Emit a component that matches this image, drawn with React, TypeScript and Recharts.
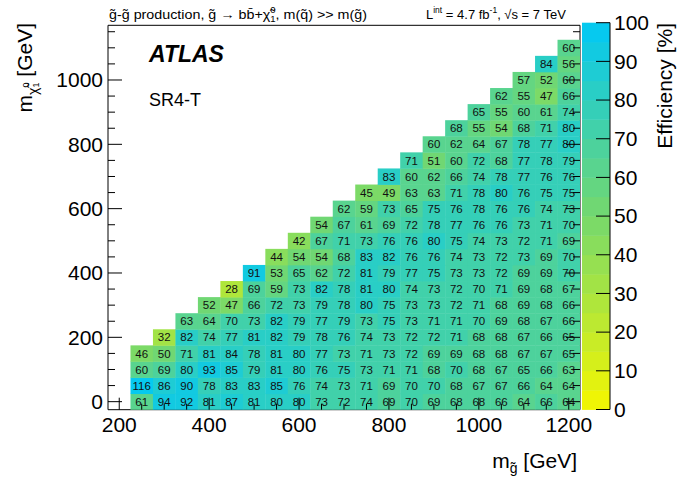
import React from "react";
import { ScatterChart, Scatter, XAxis, YAxis } from "recharts";

// gluino masses (columns) and neutralino masses (rows), GeV
const GLUINO = [250, 300, 350, 400, 450, 500, 550, 600, 650, 700, 750, 800, 850, 900, 950, 1000, 1050, 1100, 1150, 1200];
const NEUTRALINO = [0, 50, 100, 150, 200, 250, 300, 350, 400, 450, 500, 550, 600, 650, 700, 750, 800, 850, 900, 950, 1000, 1050, 1100];

// efficiency [%] per neutralino row, the last entry of each row sits at m_gluino = 1200
const EFF_0 = [61, 94, 92, 81, 87, 81, 80, 80, 73, 72, 74, 69, 70, 69, 68, 68, 66, 64, 66, 64];
const EFF_50 = [116, 86, 90, 78, 83, 83, 85, 76, 74, 73, 71, 69, 70, 70, 68, 67, 67, 66, 64, 64];
const EFF_100 = [60, 69, 80, 93, 85, 79, 81, 80, 76, 75, 73, 71, 71, 68, 70, 68, 67, 65, 66, 63];
const EFF_150 = [46, 50, 71, 81, 84, 78, 81, 80, 77, 73, 71, 73, 72, 69, 69, 68, 68, 67, 67, 65];
const EFF_200 = [32, 82, 74, 77, 81, 82, 79, 78, 76, 74, 73, 72, 72, 71, 68, 68, 67, 66, 65];
const EFF_250 = [63, 64, 70, 73, 82, 79, 77, 79, 73, 75, 73, 71, 71, 70, 69, 68, 67, 66];
const EFF_300 = [52, 47, 66, 72, 73, 79, 78, 80, 75, 73, 73, 72, 71, 68, 69, 68, 66];
const EFF_350 = [28, 69, 59, 73, 82, 78, 81, 80, 74, 73, 72, 70, 71, 69, 68, 67];
const EFF_400 = [91, 53, 65, 62, 72, 81, 79, 77, 75, 73, 73, 72, 69, 69, 70];
const EFF_450 = [44, 54, 54, 68, 83, 82, 76, 76, 74, 73, 72, 73, 69, 70];
const EFF_500 = [42, 67, 71, 73, 76, 76, 80, 75, 74, 73, 72, 71, 69];
const EFF_550 = [54, 67, 61, 69, 72, 78, 77, 76, 76, 73, 71, 70];
const EFF_600 = [62, 59, 73, 65, 75, 76, 78, 76, 76, 74, 73];
const EFF_650 = [45, 49, 63, 63, 71, 78, 80, 76, 75, 75];
const EFF_700 = [83, 60, 62, 66, 74, 78, 77, 76, 76];
const EFF_750 = [71, 51, 60, 72, 68, 77, 78, 79];
const EFF_800 = [60, 62, 64, 67, 78, 77, 80];
const EFF_850 = [68, 55, 54, 68, 71, 80];
const EFF_900 = [65, 55, 60, 61, 74];
const EFF_950 = [62, 55, 47, 66];
const EFF_1000 = [57, 52, 60];
const EFF_1050 = [84, 56];
const EFF_1100 = [60];

const EFF_ROWS = [
  EFF_0, EFF_50, EFF_100, EFF_150, EFF_200, EFF_250, EFF_300, EFF_350, EFF_400, EFF_450, EFF_500, EFF_550,
  EFF_600, EFF_650, EFF_700, EFF_750, EFF_800, EFF_850, EFF_900, EFF_950, EFF_1000, EFF_1050, EFF_1100,
];

const X_TICKS = [200, 250, 300, 350, 400, 450, 500, 550, 600, 650, 700, 750, 800, 850, 900, 950, 1000, 1050, 1100, 1150, 1200];
const X_LABELS = [200, 400, 600, 800, 1000, 1200];
const Y_TICKS = [0, 50, 100, 150, 200, 250, 300, 350, 400, 450, 500, 550, 600, 650, 700, 750, 800, 850, 900, 950, 1000, 1050, 1100, 1150];
const Y_LABELS = [0, 200, 400, 600, 800, 1000];
const Z_TICKS = [0, 10, 20, 30, 40, 50, 60, 70, 80, 90, 100];

const X_DOMAIN = [175, 1225];
const Y_DOMAIN = [-25, 1170];

// plot frame in page pixels
const PL = 108;
const PR = 580;
const PT = 25.3;
const PB = 409.7;
const CELL_W = ((PR - PL) * 50) / (X_DOMAIN[1] - X_DOMAIN[0]);
const CELL_H = ((PB - PT) * 50) / (Y_DOMAIN[1] - Y_DOMAIN[0]);

// colour bar geometry
const CB_L = 582;
const CB_R = 610;
const CB_T = 22.7;
const CB_B = 409.5;

const cells = EFF_ROWS.flatMap((row, j) =>
  row.map((eff, k) => ({ mg: GLUINO[GLUINO.length - row.length + k], mchi: NEUTRALINO[j], eff }))
);

// yellow -> green -> cyan palette, 20 contours
const STOPS = [0, 50, 100];
const STOP_RGB = [
  [245, 246, 0],
  [118, 216, 108],
  [0, 200, 246],
];

function palette(v: number) {
  const t = Math.max(0, Math.min(100, v));
  const i = t < 50 ? 0 : 1;
  const f = (t - STOPS[i]) / (STOPS[i + 1] - STOPS[i]);
  const c = STOP_RGB[i].map((a, n) => Math.round(a + (STOP_RGB[i + 1][n] - a) * f));
  return `rgb(${c[0]},${c[1]},${c[2]})`;
}

function effColor(v: number) {
  const bin = Math.min(19, Math.floor(Math.max(0, v) / 5));
  return palette(bin * 5 + 2.5);
}

function renderCell(props: any) {
  const { cx, cy, payload } = props;
  return (
    <g>
      <rect
        x={cx - CELL_W / 2}
        y={cy - CELL_H / 2}
        width={CELL_W + 0.4}
        height={CELL_H + 0.4}
        fill={effColor(payload.eff)}
      />
      <text x={cx} y={cy} dy="0.36em" textAnchor="middle" fontSize={11.5} fill="#111">
        {payload.eff}
      </text>
    </g>
  );
}

function BottomTick(props: any) {
  const { x, y, payload } = props;
  const major = X_LABELS.includes(payload.value);
  return (
    <g>
      <line x1={x} y1={y} x2={x} y2={y - (major ? 12 : 6)} stroke="#000" />
      {major && (
        <text x={x} y={y + 22} textAnchor="middle" fontSize={21} fill="#000">
          {payload.value}
        </text>
      )}
    </g>
  );
}

function TopTick(props: any) {
  const { x, y, payload } = props;
  const major = X_LABELS.includes(payload.value);
  return <line x1={x} y1={y} x2={x} y2={y + (major ? 12 : 6)} stroke="#000" />;
}

function LeftTick(props: any) {
  const { x, y, payload } = props;
  const major = Y_LABELS.includes(payload.value);
  return (
    <g>
      <line x1={x} y1={y} x2={x + (major ? 14 : 7)} y2={y} stroke="#000" />
      {major && (
        <text x={x - 5} y={y} dy="0.35em" textAnchor="end" fontSize={21} fill="#000">
          {payload.value}
        </text>
      )}
    </g>
  );
}

function RightTick(props: any) {
  const { x, y, payload } = props;
  const major = Y_LABELS.includes(payload.value);
  return <line x1={x} y1={y} x2={x - (major ? 14 : 7)} y2={y} stroke="#000" />;
}

const cbY = (v: number) => CB_B - ((CB_B - CB_T) * v) / 100;

function ColorBar() {
  const bands = Array.from({ length: 20 }, (_, i) => i * 5);
  return (
    <g>
      {bands.map((b) => (
        <rect key={b} x={CB_L} y={cbY(b + 5)} width={CB_R - CB_L} height={cbY(b) - cbY(b + 5) + 0.4} fill={palette(b + 2.5)} />
      ))}
      <line x1={CB_R} y1={CB_T} x2={CB_R} y2={CB_B} stroke="#000" />
      {Z_TICKS.map((t) => (
        <g key={t}>
          <line x1={CB_R} y1={cbY(t)} x2={CB_R - 14} y2={cbY(t)} stroke="#000" />
          <text x={CB_R + 4} y={cbY(t)} dy="0.35em" fontSize={21} fill="#000">
            {t}
          </text>
        </g>
      ))}
    </g>
  );
}

export default function App() {
  const axisLine = { stroke: "#000", strokeWidth: 1 };
  return (
    <div
      style={{
        position: "absolute",
        left: 0,
        top: 0,
        width: 680,
        height: 484,
        background: "#fff",
        fontFamily: '"Liberation Sans", Arial, Helvetica, sans-serif',
      }}
    >
      <ScatterChart
        width={680}
        height={484}
        margin={{ top: PT - 5, right: 680 - PR - 10, bottom: 484 - PB - 40, left: PL - 60 }}
      >
        <XAxis
          xAxisId="b"
          type="number"
          dataKey="mg"
          domain={X_DOMAIN}
          allowDataOverflow
          ticks={X_TICKS}
          interval={0}
          height={40}
          tickSize={0}
          tickMargin={0}
          tickLine={false}
          axisLine={axisLine}
          tick={BottomTick}
        />
        <XAxis
          xAxisId="t"
          orientation="top"
          type="number"
          domain={X_DOMAIN}
          allowDataOverflow
          ticks={X_TICKS}
          interval={0}
          height={5}
          tickSize={0}
          tickMargin={0}
          tickLine={false}
          axisLine={axisLine}
          tick={TopTick}
        />
        <YAxis
          yAxisId="l"
          type="number"
          dataKey="mchi"
          domain={Y_DOMAIN}
          allowDataOverflow
          ticks={Y_TICKS}
          interval={0}
          width={60}
          tickSize={0}
          tickMargin={0}
          tickLine={false}
          axisLine={axisLine}
          tick={LeftTick}
        />
        <YAxis
          yAxisId="r"
          orientation="right"
          type="number"
          domain={Y_DOMAIN}
          allowDataOverflow
          ticks={Y_TICKS}
          interval={0}
          width={10}
          tickSize={0}
          tickMargin={0}
          tickLine={false}
          axisLine={axisLine}
          tick={RightTick}
        />
        <Scatter xAxisId="b" yAxisId="l" data={cells} shape={renderCell} isAnimationActive={false} />
      </ScatterChart>

      <svg width={680} height={484} style={{ position: "absolute", left: 0, top: 0, pointerEvents: "none" }}>
        <ColorBar />

        <text x={109} y={19} fontSize={13.5} textLength={258} lengthAdjust="spacingAndGlyphs" fill="#000">
          {"g\u0303-g\u0303 production, g\u0303 \u2192 bb\u0304+\u03c7\u0303"}
          <tspan fontSize={9} dy={3}>1</tspan>
          <tspan fontSize={9} dx={-5} dy={-9}>0</tspan>
          <tspan dy={6}>{", m(q\u0303) >> m(g\u0303)"}</tspan>
        </text>
        <text x={426} y={19} fontSize={13} fill="#000">
          L<tspan fontSize={8.5} dy={-6}>int</tspan>
          <tspan dy={6}> = 4.7 fb</tspan>
          <tspan fontSize={8.5} dy={-6}>-1</tspan>
          <tspan dy={6}>{", \u221as = 7 TeV"}</tspan>
        </text>

        <text x={149} y={62} fontSize={23} fontWeight="bold" fontStyle="italic" fill="#000">
          ATLAS
        </text>
        <text x={149} y={106} fontSize={18} fill="#000">
          SR4-T
        </text>

        <text x={577} y={468} textAnchor="end" fontSize={21} fill="#000">
          m<tspan fontSize={14} dy={5}>{"g\u0303"}</tspan>
          <tspan dy={-5}> [GeV]</tspan>
        </text>

        <text transform="translate(32,23) rotate(-90)" textAnchor="end" fontSize={21} fill="#000">
          m<tspan fontSize={14} dy={6}>{"\u03c7\u0303"}</tspan>
          <tspan fontSize={9} dy={-9}>0</tspan>
          <tspan fontSize={9} dx={-5} dy={10}>1</tspan>
          <tspan dy={-7}> [GeV]</tspan>
        </text>

        <text transform="translate(672,23) rotate(-90)" textAnchor="end" fontSize={21} fill="#000">
          Efficiency [%]
        </text>
      </svg>
    </div>
  );
}
